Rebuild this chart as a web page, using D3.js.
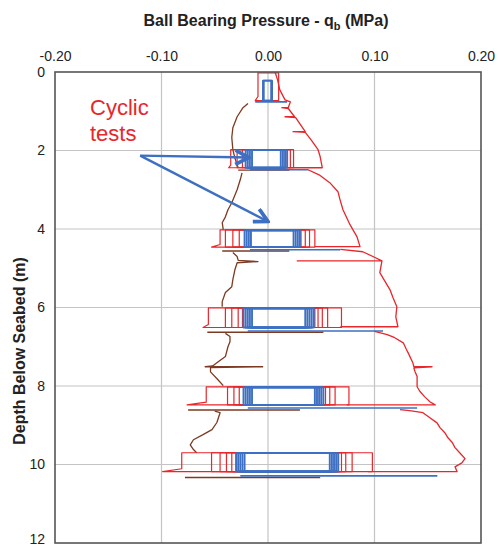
<!DOCTYPE html>
<html>
<head>
<meta charset="utf-8">
<script src="https://cdn.jsdelivr.net/npm/d3@7/dist/d3.min.js"></script>
<style>
  html, body { margin: 0; padding: 0; background: #fff; }
  svg { display: block; font-family: Arial, "Liberation Sans", sans-serif; }
</style>
</head>
<body>
<svg id="chart" width="498" height="548"></svg>
<script>
// ---------------- data ----------------
const xTicks = [-0.2, -0.1, 0.0, 0.1, 0.2];
const yTicks = [0, 2, 4, 6, 8, 10, 12];

// Penetration (red) trace: [q (MPa), depth (m)], null = pen lift
const penetration = [
  [0.0066,0.0],[0.009,0.2],[0.011,0.45],[0.016,0.71],[0.021,0.76],
  [0.019,0.91],[0.013,0.91],[0.019,0.93],
  [0.025,1.14],[0.016,1.14],[0.026,1.16],
  [0.030,1.32],
  [0.035,1.52],[0.0235,1.52],[0.035,1.54],
  [0.041,1.75],[0.047,1.98],[0.049,2.16],[0.051,2.44],[0.019,2.44],
  null,
  [0.0376,2.49],[0.048,2.62],[0.058,2.82],[0.0657,3.05],[0.0676,3.25],[0.0704,3.51],[0.077,3.89],[0.0836,4.20],[0.0864,4.45],[0.044,4.45],
  null,
  [0.068,4.52],[0.089,4.58],[0.100,4.72],[0.107,4.81],[0.027,4.81],
  null,
  [0.107,4.81],[0.105,5.11],[0.110,5.34],[0.1146,5.55],[0.1174,5.75],[0.121,5.98],[0.120,6.24],[0.122,6.49],[0.068,6.49],
  null,
  [0.100,6.61],[0.112,6.69],[0.119,6.77],[0.127,6.90],[0.130,7.07],[0.1315,7.15],[0.136,7.41],[0.137,7.51],[0.154,7.51],[0.137,7.54],[0.138,7.63],[0.140,7.76],[0.140,8.02],[0.1427,8.14],[0.147,8.27],[0.152,8.40],[0.157,8.48],[0.074,8.48],
  null,
  [0.124,8.60],[0.133,8.63],[0.1455,8.68],[0.152,8.81],[0.1587,8.94],[0.1615,9.06],[0.166,9.19],[0.169,9.32],[0.173,9.44],[0.1756,9.57],[0.180,9.70],[0.185,9.85],[0.182,9.96],[0.1756,10.06],[0.1775,10.18],[0.094,10.18]
];

// Extraction (brown) trace
const extraction = [
  [-0.0188,0.80],[-0.0235,0.91],[-0.029,1.14],[-0.033,1.42],[-0.034,1.67],[-0.033,1.98],[-0.031,2.2],[-0.028,2.44],
  null,
  [-0.0244,2.57],[-0.026,2.74],[-0.029,3.0],[-0.034,3.33],[-0.0376,3.51],[-0.040,3.69],[-0.043,3.84],[-0.042,4.02],
  null,
  [-0.033,4.60],[-0.029,4.70],[-0.028,4.80],[-0.0094,4.83],[-0.029,4.86],[-0.031,5.03],[-0.033,5.29],[-0.034,5.47],[-0.040,5.62],[-0.043,5.85],[-0.043,5.98],
  null,
  [-0.040,6.66],[-0.0357,6.74],[-0.0357,6.87],[-0.0376,7.0],[-0.040,7.25],[-0.048,7.41],[-0.052,7.49],[-0.059,7.51],[-0.005,7.51],[-0.054,7.53],[-0.054,7.64],[-0.047,7.84],[-0.042,7.99],
  null,
  [-0.050,8.64],[-0.045,8.68],[-0.048,8.93],[-0.0526,9.11],[-0.061,9.24],[-0.070,9.37],[-0.073,9.50],[-0.070,9.62],[-0.067,9.70]
];

// Cyclic tests
const testTop    = [0.02, 1.98, 4.02, 6.01, 8.02, 9.70];
const testBottom = [0.73, 2.44, 4.46, 6.51, 8.48, 10.18];
const blueTop    = [0.22, 1.99, 4.03, 6.02, 8.03, 9.71];
const redMin = [
  [-0.0094],
  [-0.035, -0.029, -0.024],
  [-0.045, -0.040, -0.033, -0.027],
  [-0.056, -0.040, -0.034, -0.028, -0.024],
  [-0.058, -0.038, -0.032, -0.027],
  [-0.081, -0.053, -0.045, -0.039, -0.034]
];
const redMax = [
  [0.010],
  [0.024, 0.021, 0.018],
  [0.044, 0.039, 0.035, 0.031],
  [0.069, 0.056, 0.051, 0.047, 0.044],
  [0.076, 0.063, 0.058, 0.054],
  [0.098, 0.079, 0.073, 0.069, 0.066]
];
const redTail = [-0.012, -0.037, -0.053, -0.061, -0.076, -0.099];
const blueMin = [
  [-0.0047, -0.0040],
  [-0.021, -0.019, -0.017, -0.015],
  [-0.022, -0.020, -0.018, -0.016],
  [-0.023, -0.021, -0.019, -0.017, -0.015],
  [-0.023, -0.021, -0.019, -0.017, -0.015],
  [-0.030, -0.028, -0.026, -0.024, -0.022]
];
const blueMax = [
  [0.0038, 0.0030],
  [0.018, 0.016, 0.014, 0.012],
  [0.030, 0.028, 0.026, 0.024],
  [0.043, 0.041, 0.039, 0.037, 0.035],
  [0.052, 0.050, 0.048, 0.046, 0.044],
  [0.066, 0.064, 0.062, 0.060, 0.058]
];

// Re-loading lines after each cyclic test: [depth, qFrom, qTo]
const blueReload  = [[0.76,-0.012,0.018],[2.49,-0.017,0.038],[4.53,-0.017,0.068],[6.60,-0.019,0.108],[8.56,-0.019,0.140],[10.29,-0.026,0.159]];
const brownReload = [[2.50,-0.028,0.020],[4.56,-0.043,0.020],[6.63,-0.057,0.052],[8.61,-0.075,0.030],[10.33,-0.078,0.049]];

// Annotation arrow: start and tips in [q, depth]
const arrowStart = [-0.120, 2.13];
const arrowTips  = [[-0.018, 2.18], [0.000, 3.81]];

// ---------------- drawing ----------------
const svg = d3.select("#chart");
const x = d3.scaleLinear().domain([-0.2, 0.2]).range([55, 481]);
const y = d3.scaleLinear().domain([0, 12]).range([72, 543]);

const RED = "#e8262b", BLUE = "#3d6fc2", BROWN = "#7c3a22";

// gridlines
svg.append("g").selectAll("line.v").data(xTicks.slice(1, -1)).join("line")
  .attr("x1", d => x(d)).attr("x2", d => x(d)).attr("y1", y(0)).attr("y2", y(12))
  .attr("stroke", "#c4c4c4").attr("stroke-width", 1.2);
svg.append("g").selectAll("line.h").data(yTicks.slice(1, -1)).join("line")
  .attr("x1", x(-0.2)).attr("x2", x(0.2)).attr("y1", d => y(d)).attr("y2", d => y(d))
  .attr("stroke", "#c4c4c4").attr("stroke-width", 1.2);

// axes
const xAxis = svg.append("g").attr("transform", `translate(0,${y(0)})`)
  .call(d3.axisTop(x).tickValues(xTicks).tickFormat(d => d.toFixed(2)).tickSize(0).tickPadding(11));
const yAxis = svg.append("g").attr("transform", `translate(${x(-0.2)},0)`)
  .call(d3.axisLeft(y).tickValues(yTicks).tickFormat(d3.format("d")).tickSize(0).tickPadding(10));
[xAxis, yAxis].forEach(g => {
  g.select(".domain").remove();
  g.selectAll("text").attr("font-size", 14).attr("fill", "#222")
    .attr("font-family", "Arial, 'Liberation Sans', sans-serif");
});
// keep the last depth label inside the picture
yAxis.selectAll(".tick text").filter(d => d === 12).attr("dy", "0.05em");

const line = d3.line().defined(d => d !== null).x(d => x(d[0])).y(d => y(d[1]));
const closed = d3.line().x(d => x(d[0])).y(d => y(d[1])).curve(d3.curveLinearClosed);

// extraction (brown)
svg.append("path").datum(extraction).attr("d", line)
  .attr("fill", "none").attr("stroke", BROWN).attr("stroke-width", 1.3).attr("stroke-linejoin", "round");

// red cyclic loops
testTop.forEach((T, t) => {
  const B = testBottom[t];
  redMin[t].forEach((mn, i) => {
    const mx = redMax[t][i];
    const pts = i === 0
      ? [[mx, T], [mx, B], [redTail[t], B], [mn, B - 0.15 * (B - T)], [mn, T]]
      : [[mx, T], [mx, B], [mn, B], [mn, T]];
    svg.append("path").datum(pts).attr("d", closed)
      .attr("fill", "none").attr("stroke", RED).attr("stroke-width", 1.2).attr("stroke-linejoin", "round");
  });
});

// penetration (red)
svg.append("path").datum(penetration).attr("d", line)
  .attr("fill", "none").attr("stroke", RED).attr("stroke-width", 1.3).attr("stroke-linejoin", "round");

// brown reload lines
svg.append("g").selectAll("line").data(brownReload).join("line")
  .attr("x1", d => x(d[1])).attr("x2", d => x(d[2])).attr("y1", d => y(d[0])).attr("y2", d => y(d[0]))
  .attr("stroke", BROWN).attr("stroke-width", 1.4);

// blue cyclic loops
blueTop.forEach((T, t) => {
  const B = testBottom[t];
  blueMin[t].forEach((mn, i) => {
    const mx = blueMax[t][i];
    svg.append("path").datum([[mx, T], [mx, B], [mn, B], [mn, T]]).attr("d", closed)
      .attr("fill", "none").attr("stroke", BLUE).attr("stroke-width", 1.9).attr("stroke-linejoin", "round");
  });
});

// blue reload lines
svg.append("g").selectAll("line").data(blueReload).join("line")
  .attr("x1", d => x(d[1])).attr("x2", d => x(d[2])).attr("y1", d => y(d[0])).attr("y2", d => y(d[0]))
  .attr("stroke", BLUE).attr("stroke-width", 1.6);

// frame
svg.append("rect").attr("x", x(-0.2)).attr("y", y(0))
  .attr("width", x(0.2) - x(-0.2)).attr("height", y(12) - y(0))
  .attr("fill", "none").attr("stroke", "#555").attr("stroke-width", 1.6);

// title
const title = svg.append("text").attr("x", 266).attr("y", 26).attr("text-anchor", "middle")
  .attr("font-size", 16).attr("font-weight", "bold").attr("fill", "#222");
title.append("tspan").text("Ball Bearing Pressure - q");
title.append("tspan").attr("font-size", 11).attr("dy", 4).text("b");
title.append("tspan").attr("dy", -4).text(" (MPa)");

// y label
svg.append("text").attr("transform", "translate(25,351) rotate(-90)").attr("text-anchor", "middle")
  .attr("font-size", 16).attr("font-weight", "bold").attr("fill", "#222")
  .text("Depth Below Seabed (m)");

// annotation
const ann = svg.append("text").attr("font-size", 22).attr("fill", RED);
ann.append("tspan").attr("x", 90).attr("y", 115).text("Cyclic");
ann.append("tspan").attr("x", 90).attr("y", 141).text("tests");

svg.append("defs").append("marker").attr("id", "chev")
  .attr("viewBox", "0 0 12 12").attr("refX", 10.5).attr("refY", 6)
  .attr("markerWidth", 17).attr("markerHeight", 17).attr("markerUnits", "userSpaceOnUse")
  .attr("orient", "auto")
  .append("path").attr("d", "M1,1 L10.5,6 L1,11").attr("fill", "none")
  .attr("stroke", BLUE).attr("stroke-width", 2.6).attr("stroke-linejoin", "miter");

svg.append("g").selectAll("line").data(arrowTips).join("line")
  .attr("x1", x(arrowStart[0])).attr("y1", y(arrowStart[1]))
  .attr("x2", d => x(d[0])).attr("y2", d => y(d[1]))
  .attr("stroke", BLUE).attr("stroke-width", 2.4).attr("marker-end", "url(#chev)");
</script>
</body>
</html>
